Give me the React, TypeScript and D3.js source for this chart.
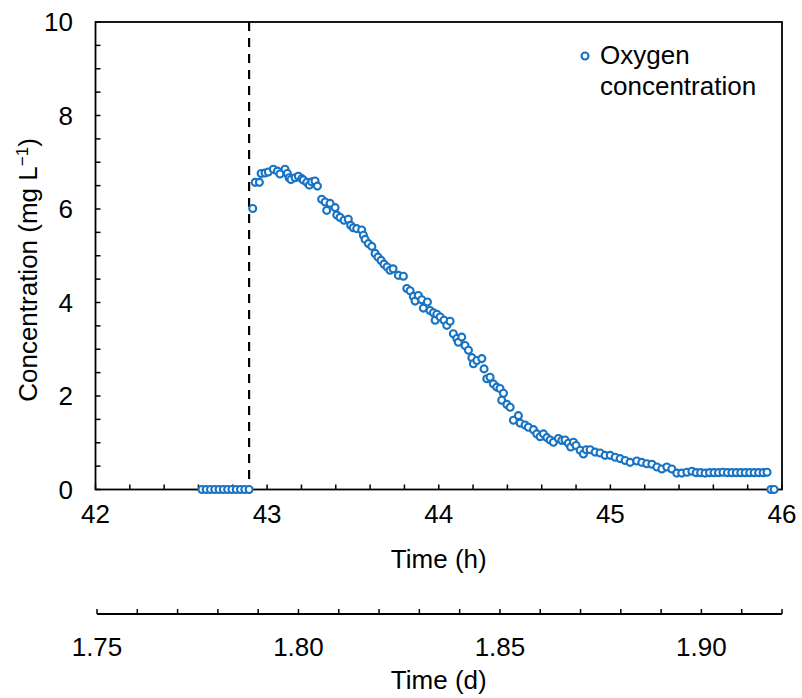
import React from 'react';
import * as d3 from 'd3';

// Time in hours and dissolved oxygen concentration (mg/L)
const timeH = [
  42.620, 42.645, 42.670, 42.695, 42.720, 42.745, 42.770, 42.795, 42.820, 42.845, 42.870, 42.895,
  42.916, 42.930, 42.955, 42.965, 42.988, 43.007, 43.036, 43.060, 43.075, 43.104, 43.118, 43.128,
  43.139, 43.163, 43.182, 43.202, 43.211, 43.231, 43.246, 43.260, 43.279, 43.293, 43.318, 43.338,
  43.347, 43.367, 43.396, 43.406, 43.425, 43.448, 43.473, 43.487, 43.502, 43.522, 43.551, 43.561,
  43.571, 43.590, 43.610, 43.629, 43.646, 43.664, 43.681, 43.699, 43.716, 43.734, 43.765, 43.794,
  43.814, 43.833, 43.852, 43.862, 43.881, 43.901, 43.910, 43.934, 43.949, 43.969, 43.979, 43.989,
  44.008, 44.031, 44.047, 44.066, 44.085, 44.105, 44.114, 44.134, 44.153, 44.173, 44.193, 44.202,
  44.222, 44.251, 44.264, 44.280, 44.299, 44.318, 44.338, 44.357, 44.367, 44.377, 44.397, 44.416,
  44.435, 44.464, 44.474, 44.503, 44.522, 44.552, 44.571, 44.591, 44.610, 44.630, 44.649, 44.668,
  44.697, 44.717, 44.736, 44.755, 44.769, 44.785, 44.800, 44.824, 44.843, 44.859, 44.882, 44.911,
  44.940, 44.969, 44.999, 45.028, 45.057, 45.086, 45.115, 45.154, 45.183, 45.212, 45.242, 45.271,
  45.300, 45.329, 45.358, 45.387, 45.416, 45.446, 45.475, 45.500, 45.526, 45.552, 45.578, 45.604,
  45.630, 45.656, 45.682, 45.708, 45.734, 45.760, 45.786, 45.812, 45.838, 45.864, 45.890, 45.913,
  45.935, 45.954,
];

const oxygen = [
  0, 0, 0, 0, 0, 0, 0, 0, 0, 0, 0, 0,
  6.01, 6.57, 6.57, 6.76, 6.77, 6.79, 6.85, 6.81, 6.75, 6.85, 6.76, 6.67,
  6.63, 6.67, 6.70, 6.65, 6.62, 6.57, 6.51, 6.58, 6.60, 6.49, 6.21, 6.15,
  5.97, 6.12, 6.03, 5.87, 5.82, 5.76, 5.78, 5.65, 5.60, 5.58, 5.55, 5.44,
  5.35, 5.26, 5.20, 5.05, 4.97, 4.90, 4.82, 4.76, 4.69, 4.72, 4.58, 4.56,
  4.30, 4.25, 4.13, 4.03, 4.15, 4.06, 3.88, 4.01, 3.83, 3.78, 3.62, 3.75,
  3.69, 3.62, 3.51, 3.60, 3.33, 3.23, 3.15, 3.26, 3.08, 2.98, 2.82, 2.69,
  2.76, 2.80, 2.58, 2.37, 2.40, 2.26, 2.19, 2.16, 1.91, 2.06, 1.82, 1.76,
  1.48, 1.58, 1.42, 1.38, 1.33, 1.28, 1.19, 1.13, 1.19, 1.11, 1.06, 1.01,
  1.09, 1.05, 1.06, 0.99, 0.91, 1.01, 0.94, 0.84, 0.76, 0.85, 0.85, 0.80,
  0.78, 0.73, 0.73, 0.69, 0.66, 0.62, 0.58, 0.61, 0.58, 0.55, 0.54, 0.48,
  0.44, 0.48, 0.44, 0.35, 0.35, 0.37, 0.39, 0.36, 0.36, 0.35, 0.36, 0.36,
  0.36, 0.37, 0.36, 0.36, 0.36, 0.36, 0.36, 0.36, 0.36, 0.36, 0.36, 0.37,
  0, 0,
];

const yTickLabels = [0, 2, 4, 6, 8, 10];
const hourTickLabels = [42, 43, 44, 45, 46];
const dayTickLabels = [1.75, 1.8, 1.85, 1.9];
const eventTimeH = 42.895;
const legendLines = ['Oxygen', 'concentration'];

const FONT = "'Liberation Sans', Arial, Helvetica, sans-serif";
const BLUE = '#1873C3';

export default function App() {
  const W = 802;
  const H = 698;
  const left = 95.5;
  const right = 782;
  const top = 22;
  const bottom = 489.5;
  const dayAxisY = 614;

  const x = d3.scaleLinear().domain([42, 46]).range([left, right]);
  const y = d3.scaleLinear().domain([0, 10]).range([bottom, top]);
  const xd = d3.scaleLinear().domain([1.75, 1.92]).range([97, right]);

  const hourMinor = d3.range(0, 21).map((i) => 42 + i * 0.2);
  const yMinor = d3.range(0, 21).map((i) => i * 0.5);
  const dayMinor = d3.range(0, 18).map((i) => 1.75 + i * 0.01);

  const points = timeH.map((t, i) => ({ t, v: oxygen[i] }));
  const fs = 26;
  const r = 3.5;
  const sw = 2.1;

  return (
    <svg
      width={W}
      height={H}
      viewBox={`0 0 ${W} ${H}`}
      style={{ position: 'absolute', left: 0, top: 0, background: '#fff' }}
      fontFamily={FONT}
    >
      <rect x={0} y={0} width={W} height={H} fill="#fff" />

      {/* Y ticks (inside) */}
      {yMinor.map((v, i) => (
        <line key={'yt' + i} x1={left} x2={left + 5} y1={y(v)} y2={y(v)} stroke="#000" strokeWidth={1.5} />
      ))}
      {/* X hour ticks (inside) */}
      {hourMinor.map((v, i) => (
        <line key={'xt' + i} x1={x(v)} x2={x(v)} y1={bottom} y2={bottom - 5} stroke="#000" strokeWidth={1.5} />
      ))}

      {/* Event dashed line */}
      <line
        x1={x(eventTimeH)}
        x2={x(eventTimeH)}
        y1={top}
        y2={bottom}
        stroke="#000"
        strokeWidth={2.2}
        strokeDasharray="9 7"
      />

      {/* Plot frame */}
      <rect x={left} y={top} width={right - left} height={bottom - top} fill="none" stroke="#000" strokeWidth={1.8} />

      {/* Data points */}
      {points.map((p, i) => (
        <circle key={'p' + i} cx={x(p.t)} cy={y(p.v)} r={r} fill="#fff" stroke={BLUE} strokeWidth={sw} />
      ))}

      {/* Y tick labels */}
      {yTickLabels.map((v) => (
        <text key={'yl' + v} x={73} y={y(v)} dy="0.36em" textAnchor="end" fontSize={fs} fill="#000">
          {v}
        </text>
      ))}

      {/* Hour tick labels */}
      {hourTickLabels.map((v) => (
        <text key={'hl' + v} x={x(v)} y={523} textAnchor="middle" fontSize={fs} fill="#000">
          {v}
        </text>
      ))}
      <text x={(left + right) / 2} y={568} textAnchor="middle" fontSize={fs} fill="#000">
        Time (h)
      </text>

      {/* Day axis */}
      <line x1={xd(1.75)} x2={xd(1.92)} y1={dayAxisY} y2={dayAxisY} stroke="#000" strokeWidth={1.8} />
      {dayMinor.map((v, i) => (
        <line key={'dt' + i} x1={xd(v)} x2={xd(v)} y1={dayAxisY} y2={dayAxisY - 5} stroke="#000" strokeWidth={1.5} />
      ))}
      {dayTickLabels.map((v) => (
        <text key={'dl' + v} x={xd(v)} y={656} textAnchor="middle" fontSize={fs} fill="#000">
          {v.toFixed(2)}
        </text>
      ))}
      <text x={(left + right) / 2} y={689} textAnchor="middle" fontSize={fs} fill="#000">
        Time (d)
      </text>

      {/* Y axis title */}
      <text
        transform={`translate(37, 270) rotate(-90)`}
        textAnchor="middle"
        fontSize={fs}
        fill="#000"
      >
        Concentration (mg L
        <tspan dy={-9} fontSize={17}>−1</tspan>
        <tspan dy={9}>)</tspan>
      </text>

      {/* Legend */}
      <circle cx={585} cy={56} r={r} fill="#fff" stroke={BLUE} strokeWidth={sw} />
      <text x={600} y={64} fontSize={fs} fill="#000">
        {legendLines[0]}
      </text>
      <text x={600} y={95} fontSize={fs} fill="#000">
        {legendLines[1]}
      </text>
    </svg>
  );
}
